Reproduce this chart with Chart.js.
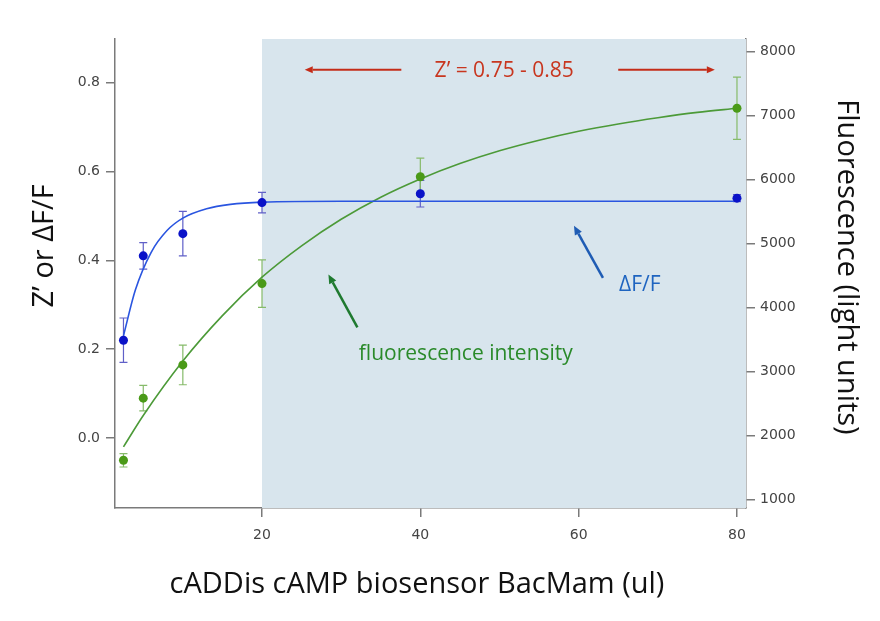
<!DOCTYPE html>
<html>
<head>
<meta charset="utf-8">
<script src="https://cdn.jsdelivr.net/npm/chart.js@4.4.1/dist/chart.umd.min.js"></script>
<style>
  html, body { margin: 0; padding: 0; background: #fff; }
  #wrap { width: 880px; height: 621px; }
</style>
</head>
<body>
<div id="wrap"><canvas id="chart" width="880" height="621"></canvas></div>
<script>
/* =========================
   DATA
========================= */

// BacMam dose (ul)
const doseX = [2.5, 5, 10, 20, 40, 80];

// ΔF/F (left axis), mean and error
const deltaF = [0.22, 0.41, 0.46, 0.53, 0.55, 0.54];
const deltaFErr = [0.05, 0.03, 0.05, 0.023, 0.03, 0.008];

// fluorescence intensity (right axis), mean and error
const fluor = [1610, 2580, 3100, 4370, 6040, 7110];
const fluorErr = [105, 200, 310, 370, 290, 485];

// fitted curves
const fitDeltaX = [2.5, 4, 6, 8, 10, 13, 16, 20, 30, 80];
const fitDeltaY = [0.23, 0.333, 0.418, 0.467, 0.495, 0.516, 0.526, 0.531, 0.533, 0.533];
const fitFluorX = [2.5, 5, 10, 15, 20, 25, 30, 35, 40, 45, 50, 55, 60, 65, 70, 75, 80];
const fitFluorY = [1820, 2310, 3160, 3870, 4470, 4960, 5375, 5720, 6005, 6245, 6445, 6610, 6750, 6865, 6962, 7045, 7110];

// tick labels
const xTicks = [20, 40, 60, 80];
const yTicks = [0, 0.2, 0.4, 0.6, 0.8];
const y2Ticks = [1000, 2000, 3000, 4000, 5000, 6000, 7000, 8000];

// window where Z' holds
const zWindowStart = 20;

/* =========================
   STYLE
========================= */

const AXIS_COLOR = "#7a7a7a";
const TICK_FONT = { family: "'DejaVu Sans', sans-serif", size: 14 };
const TITLE_FONT = "29px 'Open Sans', sans-serif";
const NOTE_FONT = "21px 'Open Sans', sans-serif";

const BLUE_DOT = "#0a12c8";
const BLUE_LINE = "#2a55e0";
const BLUE_ERR = "#6060c8";
const GREEN_DOT = "#4a9a18";
const GREEN_LINE = "#4c9a38";
const GREEN_ERR = "#86bb6a";
const SHADE = "#d8e5ed";

/* =========================
   HELPERS
========================= */

function pts(xs, ys) {
  return xs.map((x, i) => ({ x, y: ys[i] }));
}

function drawArrow(ctx, x1, y1, x2, y2, color, width, headLen, headHalf) {
  const ang = Math.atan2(y2 - y1, x2 - x1);
  const bx = x2 - headLen * Math.cos(ang);
  const by = y2 - headLen * Math.sin(ang);
  ctx.save();
  ctx.strokeStyle = color;
  ctx.fillStyle = color;
  ctx.lineWidth = width;
  ctx.beginPath();
  ctx.moveTo(x1, y1);
  ctx.lineTo(bx, by);
  ctx.stroke();
  ctx.beginPath();
  ctx.moveTo(x2, y2);
  ctx.lineTo(bx + headHalf * Math.sin(ang), by - headHalf * Math.cos(ang));
  ctx.lineTo(bx - headHalf * Math.sin(ang), by + headHalf * Math.cos(ang));
  ctx.closePath();
  ctx.fill();
  ctx.restore();
}

function drawErrors(ctx, xs, ys, errs, xScale, yScale, color) {
  ctx.save();
  ctx.strokeStyle = color;
  ctx.lineWidth = 1.2;
  xs.forEach((x, i) => {
    const px = xScale.getPixelForValue(x);
    const top = yScale.getPixelForValue(ys[i] + errs[i]);
    const bot = yScale.getPixelForValue(ys[i] - errs[i]);
    ctx.beginPath();
    ctx.moveTo(px, top); ctx.lineTo(px, bot);
    ctx.moveTo(px - 4, top); ctx.lineTo(px + 4, top);
    ctx.moveTo(px - 4, bot); ctx.lineTo(px + 4, bot);
    ctx.stroke();
  });
  ctx.restore();
}

/* =========================
   PLUGINS
========================= */

const backdrop = {
  id: "backdrop",
  beforeDatasetsDraw(chart) {
    const { ctx, chartArea, scales } = chart;
    const left = scales.x.getPixelForValue(zWindowStart);
    ctx.save();
    ctx.fillStyle = SHADE;
    ctx.fillRect(left, chartArea.top, chartArea.right - left, chartArea.bottom - chartArea.top);
    ctx.restore();
    drawErrors(ctx, doseX, deltaF, deltaFErr, scales.x, scales.y, BLUE_ERR);
    drawErrors(ctx, doseX, fluor, fluorErr, scales.x, scales.y2, GREEN_ERR);
  }
};

const notes = {
  id: "notes",
  afterDraw(chart) {
    const { ctx, scales } = chart;
    const X = v => scales.x.getPixelForValue(v);
    const Y = v => scales.y.getPixelForValue(v);

    ctx.save();
    ctx.font = NOTE_FONT;
    ctx.textBaseline = "middle";

    // Z' window
    ctx.fillStyle = "#c8361f";
    ctx.textAlign = "center";
    ctx.fillText("Z\u2019 = 0.75 - 0.85", X(50.6), Y(0.826));
    drawArrow(ctx, X(37.6), Y(0.829), X(25.4), Y(0.829), "#c42c18", 2, 8, 3.5);
    drawArrow(ctx, X(65.0), Y(0.829), X(77.2), Y(0.829), "#c42c18", 2, 8, 3.5);

    // ΔF/F label
    ctx.fillStyle = "#1e64c0";
    ctx.textAlign = "left";
    ctx.fillText("\u0394F/F", X(65.1), Y(0.344));
    drawArrow(ctx, X(63.07), Y(0.3606), X(59.41), Y(0.4778), "#1f5cb4", 2.5, 9, 4);

    // fluorescence label
    ctx.fillStyle = "#2a8a2a";
    ctx.textAlign = "center";
    ctx.fillText("fluorescence intensity", X(45.75), Y(0.1886));
    drawArrow(ctx, X(32.05), Y(0.2488), X(28.39), Y(0.3682), "#1f7a30", 2.5, 9, 4);

    // axis titles
    ctx.fillStyle = "#111";
    ctx.font = TITLE_FONT;
    ctx.textAlign = "center";
    ctx.textBaseline = "alphabetic";
    ctx.fillText("cADDis cAMP biosensor BacMam (ul)", 417, 593);

    ctx.save();
    ctx.translate(53, 246);
    ctx.rotate(-Math.PI / 2);
    ctx.fillText("Z\u2019 or \u0394F/F", 0, 0);
    ctx.restore();

    ctx.save();
    ctx.translate(838, 267);
    ctx.rotate(Math.PI / 2);
    ctx.fillText("Fluorescence (light units)", 0, 0);
    ctx.restore();

    ctx.restore();
  }
};

/* =========================
   CHART
========================= */

const axisGrid = {
  display: true,
  drawOnChartArea: false,
  drawTicks: true,
  tickLength: 9,
  color: AXIS_COLOR,
  lineWidth: 1.5
};
const axisBorder = { display: true, color: AXIS_COLOR, width: 1.5 };

new Chart(document.getElementById("chart"), {
  type: "scatter",
  data: {
    datasets: [
      {
        data: pts(doseX, deltaF),
        yAxisID: "y",
        pointRadius: 4.5,
        pointBackgroundColor: BLUE_DOT,
        pointBorderWidth: 0,
        showLine: false
      },
      {
        data: pts(doseX, fluor),
        yAxisID: "y2",
        pointRadius: 4.5,
        pointBackgroundColor: GREEN_DOT,
        pointBorderWidth: 0,
        showLine: false
      },
      {
        data: pts(fitDeltaX, fitDeltaY),
        yAxisID: "y",
        showLine: true,
        pointRadius: 0,
        borderColor: BLUE_LINE,
        borderWidth: 1.6,
        cubicInterpolationMode: "monotone",
        fill: false
      },
      {
        data: pts(fitFluorX, fitFluorY),
        yAxisID: "y2",
        showLine: true,
        pointRadius: 0,
        borderColor: GREEN_LINE,
        borderWidth: 1.6,
        cubicInterpolationMode: "monotone",
        fill: false
      }
    ]
  },
  options: {
    responsive: false,
    animation: false,
    layout: { padding: { top: 39, left: 0, right: 0, bottom: 0 } },
    plugins: {
      legend: { display: false },
      tooltip: { enabled: false }
    },
    scales: {
      x: {
        type: "linear",
        min: 1.43,
        max: 81.14,
        afterBuildTicks: s => { s.ticks = xTicks.map(v => ({ value: v })); },
        afterFit: s => { s.height = 113; },
        grid: axisGrid,
        border: axisBorder,
        ticks: { font: TICK_FONT, color: "#444", padding: 10, maxRotation: 0 }
      },
      y: {
        type: "linear",
        position: "left",
        min: -0.158,
        max: 0.8985,
        afterBuildTicks: s => { s.ticks = yTicks.map(v => ({ value: v })); },
        afterFit: s => { s.width = 115; },
        grid: axisGrid,
        border: axisBorder,
        ticks: { font: TICK_FONT, color: "#444", padding: 6, callback: v => v.toFixed(1) }
      },
      y2: {
        type: "linear",
        position: "right",
        min: 864,
        max: 8192,
        afterBuildTicks: s => { s.ticks = y2Ticks.map(v => ({ value: v })); },
        afterFit: s => { s.width = 134; },
        grid: axisGrid,
        border: axisBorder,
        ticks: { font: TICK_FONT, color: "#444", padding: 5, callback: v => String(v) }
      }
    }
  },
  plugins: [backdrop, notes]
});
</script>
</body>
</html>
